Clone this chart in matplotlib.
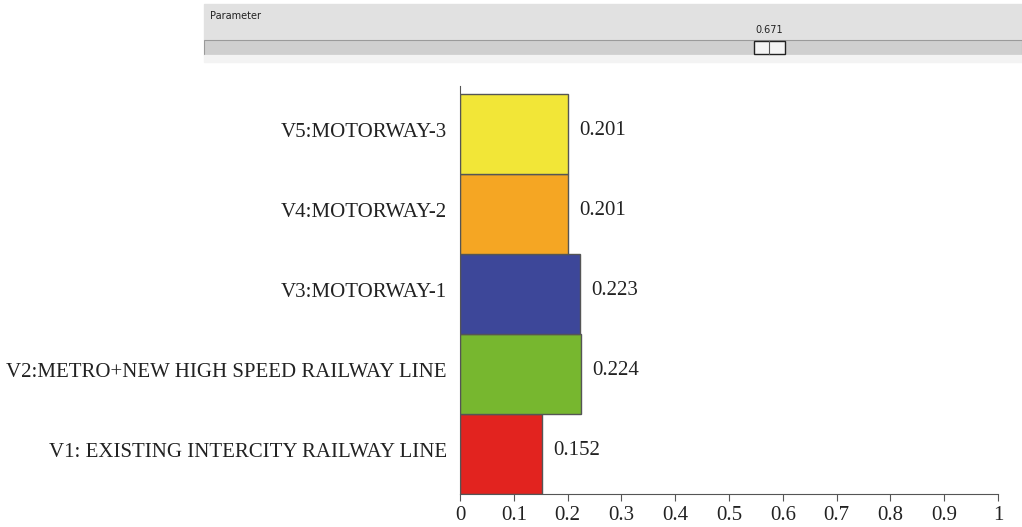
import matplotlib.pyplot as plt
from matplotlib.patches import Rectangle

labels = ['V1: EXISTING INTERCITY RAILWAY LINE', 'V2:METRO+NEW HIGH SPEED RAILWAY LINE',
          'V3:MOTORWAY-1', 'V4:MOTORWAY-2', 'V5:MOTORWAY-3']
values = [0.152, 0.224, 0.223, 0.201, 0.201]
colors = ['#e2231f', '#77b72f', '#3d4799', '#f5a623', '#f2e637']
param_name = 'Parameter'
param_value = 0.671

plt.rcParams['font.family'] = ['Liberation Serif', 'DejaVu Serif']

fig = plt.figure(figsize=(10.22, 5.27), dpi=100)
W, H = 1022, 527

# slider panel at top
panel = fig.add_axes([0, 0, 1, 1], zorder=0)
panel.set_xlim(0, W); panel.set_ylim(H, 0); panel.axis('off')
panel.add_patch(Rectangle((204, 4), W - 204, 36, color='#e1e1e1'))
panel.add_patch(Rectangle((204, 40), W - 204, 15, facecolor='#cfcfcf', edgecolor='#9a9a9a', lw=0.8))
panel.add_patch(Rectangle((204, 55), W - 204, 7, color='#f3f3f3'))
panel.text(210, 16, param_name, fontsize=7, family='DejaVu Sans', va='center', color='#222222')
panel.text(769, 30, '%.3f' % param_value, fontsize=7, family='DejaVu Sans', ha='center', va='center', color='#222222')
panel.add_patch(Rectangle((754, 41), 31, 13, facecolor='#f4f4f4', edgecolor='#222222', lw=1))
panel.plot([769, 769], [41, 54], color='#555555', lw=0.8)

ax = fig.add_axes([460 / W, 1 - 494 / H, 538 / W, 408 / H])
ypos = range(len(labels))
ax.barh(ypos, values, height=1.0, color=colors, edgecolor='#555555', linewidth=1)
for y, v in zip(ypos, values):
    ax.text(v + 0.021, y + 0.04, '%.3f' % v, va='center', ha='left', fontsize=15, color='#222222')

ax.set_xlim(0, 1)
ax.set_ylim(-0.5, 4.6)
ax.set_yticks([y + 0.05 for y in ypos])
ax.set_yticklabels(labels, fontsize=15, color='#222222')
ax.tick_params(axis='y', length=0, pad=9.5)
ax.set_xticks([0, 0.1, 0.2, 0.3, 0.4, 0.5, 0.6, 0.7, 0.8, 0.9, 1])
ax.set_xticklabels(['0', '0.1', '0.2', '0.3', '0.4', '0.5', '0.6', '0.7', '0.8', '0.9', '1'])
ax.tick_params(axis='x', labelsize=15, length=5, color='#555555', labelcolor='#222222', pad=4)
for s in ['top', 'right']:
    ax.spines[s].set_visible(False)
for s in ['left', 'bottom']:
    ax.spines[s].set_color('#555555')

fig.savefig('out.png', dpi=100)
